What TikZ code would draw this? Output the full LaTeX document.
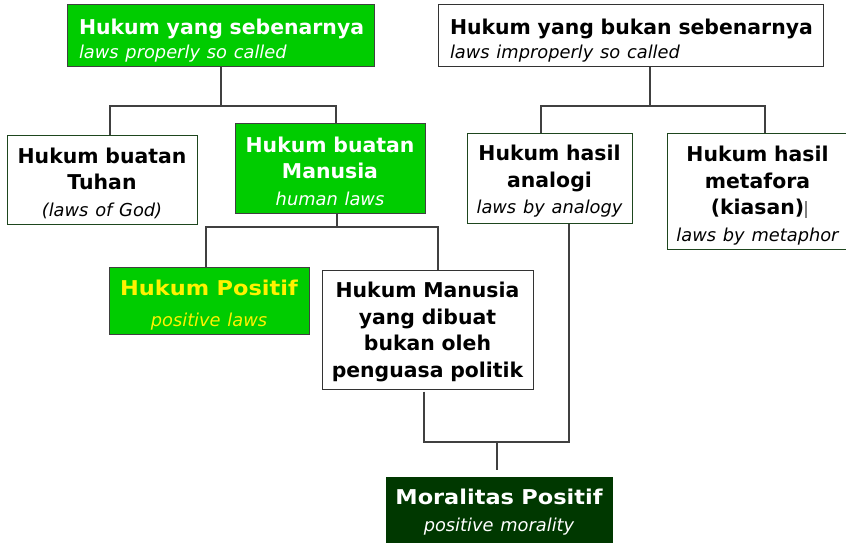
\documentclass[tikz,border=0pt]{standalone}
\usepackage{fontspec}
\usepackage{graphicx}
\setmainfont{DejaVu Sans}
\definecolor{hgreen}{RGB}{0,204,0}
\definecolor{dgreen}{RGB}{0,56,0}
\definecolor{bgreen}{RGB}{30,70,30}
\definecolor{linegray}{RGB}{64,64,64}
\newcommand\Bl[1]{{\fontsize{20.4}{26.5}\selectfont\bfseries #1}}
\newcommand\Il[1]{{\fontsize{17.8}{26.5}\selectfont\itshape #1}}
\newcommand\Sx[1]{\rule{0pt}{#1pt}}
\tikzset{
  base/.style={rectangle, draw, line width=1pt, inner ysep=0pt, font=\fontsize{20.4}{26.5}\selectfont},
  cbox/.style={base, inner xsep=2pt, align=center},
  lbox/.style={base, inner xsep=12pt, align=left},
  greenbox/.style={fill=hgreen, draw=black!75, text=white},
  whitebox/.style={fill=white, draw=black!80},
  wgbox/.style={fill=white, draw=bgreen},
  darkbox/.style={fill=dgreen, draw=dgreen, text=white},
  conn/.style={draw=linegray, line width=1.2pt}
}
\begin{document}
\begin{tikzpicture}[x=1pt,y=1pt]
\useasboundingbox (0,0) rectangle (846,542);
\clip (0,0) rectangle (846,542);
\fill[white] (0,0) rectangle (846,542);

% boxes
\node[lbox, greenbox, text width=283pt, minimum height=62pt] (A) at (220.5,506)
  {\Sx{24.8}\Bl{\mbox{Hukum yang sebenarnya}}\\[-2.5pt]\Il{laws properly so called}};
\node[lbox, whitebox, text width=361pt, minimum height=62pt] (B) at (630.5,506)
  {\Sx{24.8}\Bl{\mbox{Hukum yang bukan sebenarnya}}\\[-2.5pt]\Il{laws improperly so called}};
\node[cbox, wgbox, text width=186pt, minimum height=88pt] (C) at (102,362)
  {\Sx{22.3}\Bl{Hukum buatan\\Tuhan}\\\Il{(laws of God)}};
\node[cbox, greenbox, text width=186pt, minimum height=89pt] (D) at (330,373.5)
  {\Sx{21}\Bl{Hukum buatan\\Manusia}\\\Il{human laws}};
\node[cbox, greenbox, text=yellow, text width=196pt, minimum height=67pt] (E) at (209,241.5)
  {\Sx{25.2}\Bl{\scalebox{1.1}[1]{Hukum Positif}}\\[4.5pt]\Il{positive laws}};
\node[cbox, whitebox, text width=207pt, minimum height=119pt] (F) at (427.5,212.5)
  {\Sx{20.3}\Bl{Hukum Manusia\\yang dibuat\\bukan oleh\\penguasa politik}};
\node[cbox, wgbox, text width=161pt, minimum height=89pt] (G) at (549.5,363.5)
  {\Sx{21}\Bl{Hukum hasil\\analogi}\\\Il{laws by analogy}};
\node[cbox, wgbox, text width=177pt, minimum height=115pt] (H) at (757.5,350.5)
  {\Sx{23.7}\Bl{Hukum hasil\\metafora\\(kiasan)\rlap{\kern1pt\textcolor{gray}{\rule[-3pt]{1.6pt}{17pt}}}}\\\Il{laws by metaphor}};
\node[cbox, darkbox, text width=222pt, minimum height=70pt] (I) at (499,30)
  {\Bl{\scalebox{1.1}[1]{Moralitas Positif}}\\\Il{positive morality}};

% junctions
\coordinate (ja) at (221,436);
\coordinate (jaL) at (110,436);
\coordinate (jaR) at (336,436);
\coordinate (jb) at (650,436);
\coordinate (jbL) at (541,436);
\coordinate (jbR) at (765,436);
\coordinate (jd) at (337,315);
\coordinate (jdL) at (206,315);
\coordinate (jdR) at (438,315);
\coordinate (jf) at (424,100);
\coordinate (jg) at (569,100);
\coordinate (jm) at (497,100);

% connectors
\draw[conn] (A.south -| ja) -- (ja);
\draw[conn] (jaL |- C.north) -- (jaL) -- (jaR) -- (jaR |- D.north);
\draw[conn] (B.south -| jb) -- (jb);
\draw[conn] (jbL |- G.north) -- (jbL) -- (jbR) -- (jbR |- H.north);
\draw[conn] (D.south -| jd) -- (jd);
\draw[conn] (jdL |- E.north) -- (jdL) -- (jdR) -- (jdR |- F.north);
\draw[conn] ([yshift=-2pt]F.south -| jf) -- (jf) -- (jg) -- (G.south -| jg);
\draw[conn] (jm) -- ([yshift=7pt]I.north -| jm);
\end{tikzpicture}
\end{document}
